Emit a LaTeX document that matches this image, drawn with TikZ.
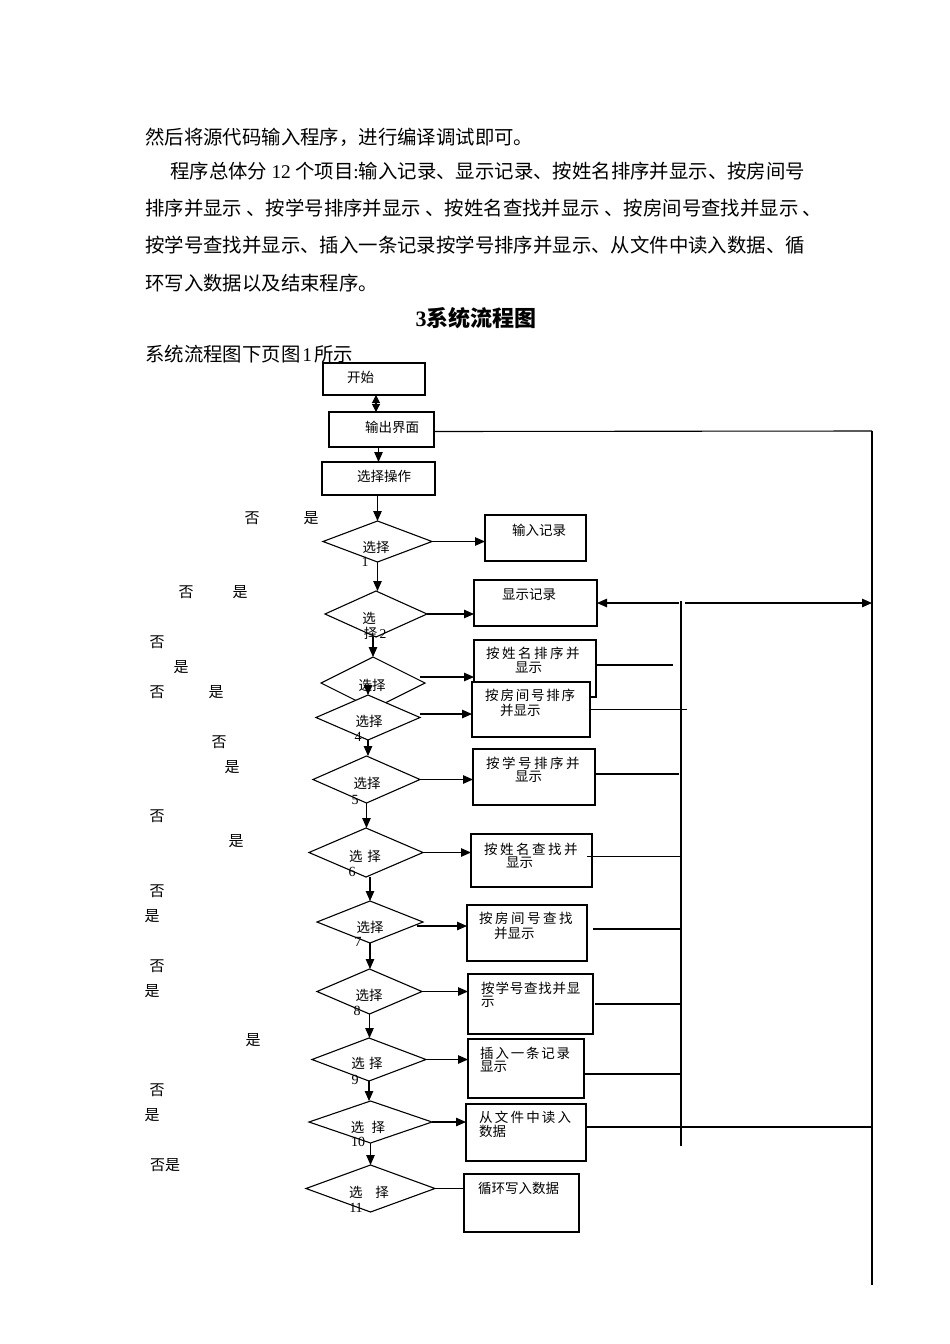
\documentclass[tikz,border=0pt]{standalone}
\usepackage{fontspec}
\setmainfont{Noto Sans CJK SC}
\newfontfamily\lat{Liberation Serif}
\usetikzlibrary{shapes.geometric,arrows.meta}
\newcommand\spcd[2]{\def\myspc{\hspace{#1}}\myspcdaux#2\relax}
\def\myspcdaux#1{\ifx#1\relax\else#1\myspc\expandafter\myspcdaux\fi}
\tikzset{
  box/.style={draw, line width=1.1pt, fill=white, rectangle, inner sep=0pt, outer sep=0pt},
  dia/.style={draw, line width=1.1pt, fill=white, diamond, inner sep=0pt, outer sep=0pt},
  arr/.style={line width=1.1pt, -{Triangle[length=10pt,width=8.5pt]}},
  ln/.style={line width=1.1pt},
  txt/.style={inner sep=0pt, anchor=west, font=\fontsize{19.4}{22}\selectfont},
  bt/.style={inner sep=0pt, anchor=west, font=\fontsize{13.5}{15}\selectfont},
  dt/.style={inner sep=0pt, font=\fontsize{13.5}{15}\selectfont},
  num/.style={inner sep=0pt, font=\lat\fontsize{14}{15}\selectfont},
  yn/.style={inner sep=0pt, font=\fontsize{15}{17}\selectfont},
}
\begin{document}
\begin{tikzpicture}[x=1pt,y=-1pt]
\path[use as bounding box] (0,0) rectangle (950,1344);
% body text
\node[txt] (p1) at (145,137) {然后将源代码输入程序，进行编译调试即可。};
\node[txt] (p2) at (170,171) {程序总体分 {\lat 12} 个项目{\lat :}输入记录、显示记录、按姓名排序并显示、按房间号};
\node[txt] (p3) at (145,208) {排序并显示 、按学号排序并显示 、按姓名查找并显示 、按房间号查找并显示 、};
\node[txt] (p4) at (145,245) {按学号查找并显示、插入一条记录按学号排序并显示、从文件中读入数据、循};
\node[txt] (p5) at (145,283) {环写入数据以及结束程序。};
\node[inner sep=0pt, font=\bfseries\fontsize{22}{24}\selectfont] (head) at (476,318) {{\lat\bfseries 3}系统流程图};
\node[txt] (p6) at (145,354) {系统流程图下页图\hspace{2pt}{\lat 1}\hspace{2pt}所示};
% boxes
\node[box, minimum width=102pt, minimum height=32pt] (start) at (374,379) {};
\node[box, minimum width=105pt, minimum height=35pt] (out) at (381.5,429.5) {};
\node[box, minimum width=113pt, minimum height=33pt] (sel) at (378.5,478.5) {};
\node[box, minimum width=101pt, minimum height=46pt] (b1) at (535.5,538) {};
\node[box, minimum width=123pt, minimum height=46pt] (b2) at (535.5,603) {};
\node[box, minimum width=122pt, minimum height=57pt] (b3) at (535,668.5) {};
\node[box, minimum width=118pt, minimum height=55pt] (b4) at (531,709.5) {};
\node[box, minimum width=122pt, minimum height=56pt] (b5) at (534,777) {};
\node[box, minimum width=121pt, minimum height=53pt] (b6) at (531.5,860.5) {};
\node[box, minimum width=120pt, minimum height=56pt] (b7) at (527,933) {};
\node[box, minimum width=125pt, minimum height=60pt] (b8) at (530.5,1004) {};
\node[box, minimum width=116pt, minimum height=59pt] (b9) at (526,1068.5) {};
\node[box, minimum width=120pt, minimum height=57pt] (b10) at (526,1132.5) {};
\node[box, minimum width=115pt, minimum height=58pt] (b11) at (521.5,1203) {};
% diamonds
\node[dia, minimum width=109pt, minimum height=41pt] (d1) at (377.5,541.5) {};
\node[dia, minimum width=102pt, minimum height=46pt] (d2) at (376,614) {};
\node[dia, minimum width=104pt, minimum height=52pt] (d3) at (373,683) {};
\node[dia, minimum width=104pt, minimum height=45pt] (d4) at (368,717.5) {};
\node[dia, minimum width=107pt, minimum height=47pt] (d5) at (366.5,779.5) {};
\node[dia, minimum width=114pt, minimum height=49pt] (d6) at (366,852.5) {};
\node[dia, minimum width=106pt, minimum height=42pt] (d7) at (370,922) {};
\node[dia, minimum width=105pt, minimum height=45pt] (d8) at (369.5,991.5) {};
\node[dia, minimum width=114pt, minimum height=43pt] (d9) at (369,1059.5) {};
\node[dia, minimum width=123pt, minimum height=42pt] (d10) at (370.5,1122) {};
\node[dia, minimum width=129pt, minimum height=47pt] (d11) at (370.5,1188.5) {};
% box texts
\node[bt] (tstart) at (347,377) {开始};
\node[bt] (tout) at (365,427) {输出界面};
\node[bt] (tsel) at (357,476) {选择操作};
\node[bt] (t1) at (512,530) {输入记录};
\node[bt] (t2) at (502,595) {显示记录};
\node[bt] (t3a) at (486,653) {\spcd{2.5pt}{按姓名排序并}};
\node[bt] (t3b) at (515,668) {显示};
\node[bt] (t4a) at (485,695) {\spcd{1.8pt}{按房间号排序}};
\node[bt] (t4b) at (500,710) {并显示};
\node[bt] (t5a) at (486,763) {\spcd{2.5pt}{按学号排序并}};
\node[bt] (t5b) at (515,777) {显示};
\node[bt] (t6a) at (484,849) {\spcd{2.5pt}{按姓名查找并}};
\node[bt] (t6b) at (506,863) {显示};
\node[bt] (t7a) at (479,918) {\spcd{2.5pt}{按房间号查找}};
\node[bt] (t7b) at (494,933) {并显示};
\node[bt] (t8a) at (481,988) {\spcd{0.8pt}{按学号查找并显}};
\node[bt] (t8b) at (481,1002) {示};
\node[bt] (t9a) at (480,1053) {\spcd{1.8pt}{插入一条记录}};
\node[bt] (t9b) at (480,1067) {显示};
\node[bt] (t10a) at (479,1117) {\spcd{2.2pt}{从文件中读入}};
\node[bt] (t10b) at (479,1131) {数据};
\node[bt] (t11) at (478,1188) {循环写入数据};
% diamond texts
\node[dt] (l1) at (376,547) {选择};
\node[num] (n1) at (365,562) {1};
\node[dt] (l2a) at (369,618) {选};
\node[dt] (l2b) at (375,633) {择\,{\lat 2}};
\node[dt] (l3) at (372,685) {选择};
\node[dt] (l4) at (369,721) {选择};
\node[num] (n4) at (358,737) {4};
\node[dt] (l5) at (367,783) {选择};
\node[num] (n5) at (355,800) {5};
\node[dt] (l6) at (365,856) {选\hspace{5pt}择};
\node[num] (n6) at (352,872) {6};
\node[dt] (l7) at (370,927) {选择};
\node[num] (n7) at (358,942) {7};
\node[dt] (l8) at (369,995) {选择};
\node[num] (n8) at (357,1011) {8};
\node[dt] (l9) at (367,1063) {选\hspace{4.5pt}择};
\node[num] (n9) at (355,1080) {9};
\node[dt] (l10) at (368,1127) {选\hspace{7.5pt}择};
\node[num] (n10) at (358,1142) {10};
\node[dt] (l11) at (369,1192) {选\hspace{13pt}择};
\node[num] (n11) at (356,1208) {11};
% yes / no labels
\node[yn] (y1) at (252,518) {否};
\node[yn] (y2) at (311,518) {是};
\node[yn] (y3) at (186,592) {否};
\node[yn] (y4) at (240,592) {是};
\node[yn] (y5) at (157,642) {否};
\node[yn] (y6) at (181,667) {是};
\node[yn] (y7) at (157,692) {否};
\node[yn] (y8) at (216,692) {是};
\node[yn] (y9) at (219,742) {否};
\node[yn] (y10) at (232,767) {是};
\node[yn] (y11) at (157,816) {否};
\node[yn] (y12) at (236,841) {是};
\node[yn] (y13) at (157,891) {否};
\node[yn] (y14) at (152,916) {是};
\node[yn] (y15) at (157,966) {否};
\node[yn] (y16) at (152,991) {是};
\node[yn] (y17) at (253,1040) {是};
\node[yn] (y18) at (157,1090) {否};
\node[yn] (y19) at (152,1115) {是};
\node[yn] (y20) at (165,1165) {否是};
% bus coordinates
\coordinate (busT) at (681,601);
\coordinate (busB) at (681,1146);
\coordinate (outT) at (872,431);
\coordinate (outB) at (872,1285);
\coordinate (busL) at (679,603);
\coordinate (busR) at (685,603);
\coordinate (outM) at (872,603);
% vertical connectors
\draw[ln, {Triangle[length=8pt,width=8pt]}-{Triangle[length=8pt,width=8pt]}] ([xshift=2pt]start.south) -- ([xshift=-5.5pt]out.north);
\draw[arr] (out.south -| sel.north) -- (sel.north);
\draw[arr] (sel.south -| d1.north) -- (d1.north);
\draw[arr] (d1.south) -- (d1.south |- d2.north);
\draw[arr] (d2.south -| d3.north) -- (d3.north);
\draw[arr] (d4.north) ++(0,-9) -- (d4.north);
\draw[arr] (d4.south) -- (d4.south |- d5.north);
\draw[arr] (d5.south) -- (d5.south |- d6.north);
\draw[arr] (d6.south -| d7.north) -- (d7.north);
\draw[arr] (d7.south) -- (d7.south |- d8.north);
\draw[arr] (d8.south) -- (d8.south |- d9.north);
\draw[arr] (d9.south) -- (d9.south |- d10.north);
\draw[arr] (d10.south) -- (d10.south |- d11.north);
% horizontal connectors
\draw[arr] (d1.east) -- (d1.east -| b1.west);
\draw[arr] (d2.east) -- (d2.east -| b2.west);
\draw[arr] ([shift={(-5pt,6pt)}]d3.east) -- ([yshift=6pt]d3.east -| b3.west);
\draw[arr] ([yshift=3.5pt]d4.east) -- ([yshift=3.5pt]d4.east -| b4.west);
\draw[arr] (d5.east) -- (d5.east -| b5.west);
\draw[arr] (d6.east) -- (d6.east -| b6.west);
\draw[arr] ([shift={(-6pt,-4pt)}]d7.east) -- ([yshift=-4pt]d7.east -| b7.west);
\draw[arr] (d8.east) -- (d8.east -| b8.west);
\draw[arr] (d9.east) -- (d9.east -| b9.west);
\draw[arr] (d10.east) -- (d10.east -| b10.west);
\draw[ln] (d11.east) -- (d11.east -| b11.west);
% right side
\draw[ln] ([yshift=-2pt]out.east) -- (outT);
\draw[ln] (outT) -- (outB);
\draw[ln] (busT) -- (busB);
\draw[arr] (busL) -- (b2.east);
\draw[arr] (busR) -- (outM);
\draw[ln] ([yshift=3.5pt]b3.east) -- ++(77,0);
\draw[ln] (b4.east) -- ++(97,0);
\draw[ln] ([yshift=3pt]b5.east) -- ++(84,0);
\draw[ln] ([shift={(-5pt,4pt)}]b6.east) -- ([yshift=4pt]b6.east -| busT);
\draw[ln] ([shift={(6pt,4pt)}]b7.east) -- ([yshift=4pt]b7.east -| busT);
\draw[ln] ([xshift=2pt]b8.east) -- (b8.east -| busT);
\draw[ln] ([yshift=-5.5pt]b9.east) -- ([yshift=-5.5pt]b9.east -| busT);
\draw[ln] ([yshift=5.5pt]b10.east) -- ([yshift=5.5pt]b10.east -| outT);
\end{tikzpicture}
\end{document}
